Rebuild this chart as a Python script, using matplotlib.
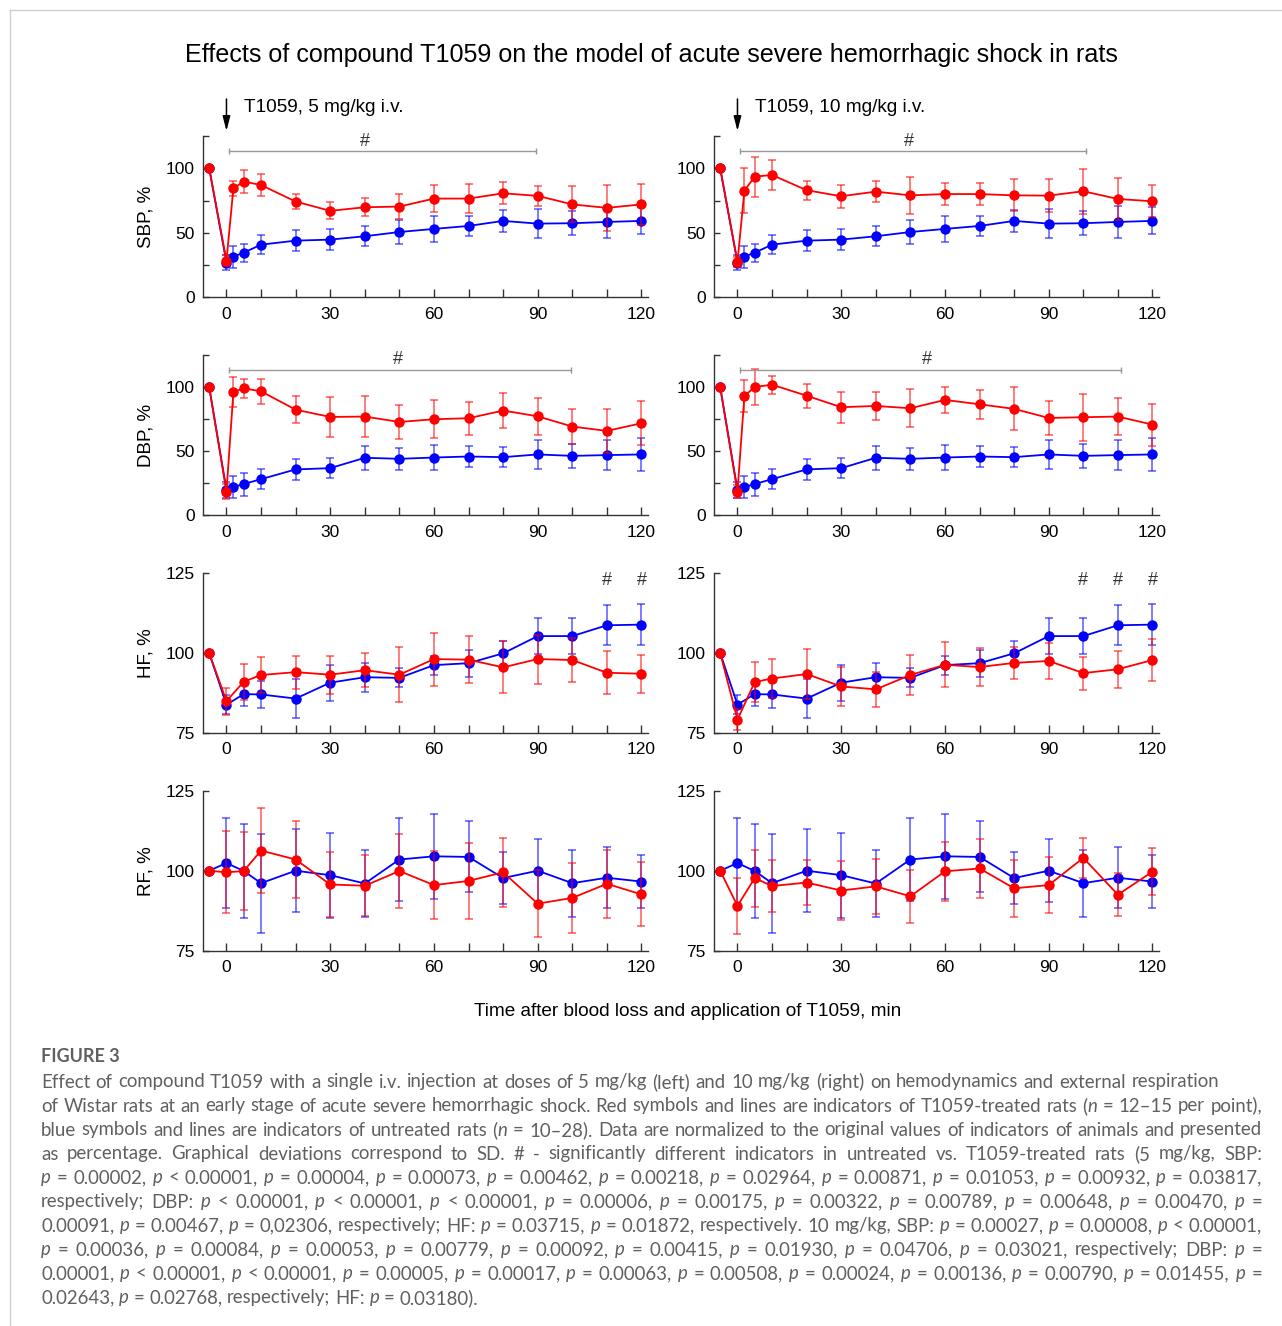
import re
import matplotlib
matplotlib.use('Agg')
import matplotlib.pyplot as plt
from matplotlib.lines import Line2D

plt.rcParams['font.family'] = ['Liberation Sans', 'DejaVu Sans']
plt.rcParams['font.size'] = 12.5

W, H = 1282, 1326

# sampling times, min (-5 = baseline before blood loss)
t_bp = [-5, 0, 2, 5, 10, 20, 30, 40, 50, 60, 70, 80, 90, 100, 110, 120]
t_hf = [-5, 0, 5, 10, 20, 30, 40, 50, 60, 70, 80, 90, 100, 110, 120]

# untreated rats (blue), same control group in both columns
sbp_ctrl    = [100, 26.9, 31.5, 34.6, 40.8, 43.9, 44.7, 47.3, 50.6, 53.0, 55.3, 59.2, 57.1, 57.4, 58.4, 59.2]
sbp_ctrl_sd = [0, 6.0, 8.5, 7.0, 7.6, 8.0, 8.0, 7.8, 9.3, 10.0, 8.0, 8.5, 11.0, 9.2, 12.5, 10.5]
dbp_ctrl    = [100, 19.5, 21.8, 24.2, 28.0, 35.6, 36.6, 44.7, 43.9, 44.9, 45.7, 45.2, 47.3, 46.2, 46.8, 47.3]
dbp_ctrl_sd = [0, 6.5, 8.3, 9.0, 7.8, 8.3, 8.0, 9.3, 8.6, 10.1, 8.4, 7.9, 11.4, 9.3, 12.0, 12.9]
hf_ctrl     = [100, 83.8, 87.1, 87.0, 85.7, 90.7, 92.4, 92.2, 96.2, 96.8, 99.9, 105.3, 105.3, 108.7, 108.9]
hf_ctrl_sd  = [0, 3.0, 3.7, 4.2, 6.1, 5.6, 4.6, 3.0, 3.0, 4.2, 3.9, 5.7, 5.7, 6.3, 6.5]
rf_ctrl     = [100, 102.4, 99.9, 96.1, 100.0, 98.6, 96.0, 103.5, 104.5, 104.3, 97.7, 100.0, 96.1, 97.8, 96.6]
rf_ctrl_sd  = [0, 14.2, 14.7, 15.5, 12.9, 13.3, 10.5, 13.0, 13.2, 11.1, 8.2, 9.9, 10.5, 9.5, 8.2]

# T1059 5 mg/kg (red, left column)
sbp_5    = [100, 28.4, 84.5, 89.7, 87.0, 74.2, 67.0, 69.8, 70.3, 76.5, 76.5, 80.6, 78.6, 72.0, 69.3, 72.0]
sbp_5_sd = [0, 4.0, 6.0, 9.0, 8.5, 6.0, 6.5, 7.0, 9.5, 10.3, 11.0, 8.5, 8.0, 14.0, 18.0, 16.0]
dbp_5    = [100, 18.2, 96.1, 99.0, 96.6, 82.3, 76.6, 76.9, 72.7, 74.8, 75.6, 81.6, 77.1, 69.1, 65.7, 71.7]
dbp_5_sd = [0, 6.0, 11.7, 7.4, 9.8, 10.8, 15.6, 16.0, 13.6, 15.0, 13.0, 13.5, 14.4, 13.4, 17.0, 17.0]
hf_5     = [100, 84.9, 91.0, 93.1, 94.0, 93.2, 94.6, 93.2, 98.1, 97.9, 95.5, 98.1, 97.8, 93.8, 93.5]
hf_5_sd  = [0, 4.2, 5.6, 5.7, 5.2, 6.0, 5.3, 8.7, 8.3, 7.4, 8.2, 7.7, 7.0, 6.7, 6.0]
rf_5     = [100, 99.5, 99.9, 106.3, 103.5, 95.7, 95.3, 99.9, 95.5, 96.8, 99.5, 89.7, 91.5, 95.9, 92.6]
rf_5_sd  = [0, 12.8, 12.3, 13.4, 12.0, 10.3, 9.5, 11.5, 10.6, 12.0, 10.8, 10.4, 11.0, 10.6, 10.0]

# T1059 10 mg/kg (red, right column)
sbp_10    = [100, 27.4, 82.7, 93.5, 94.8, 83.0, 78.3, 81.9, 79.0, 80.0, 80.0, 79.0, 78.8, 82.2, 76.2, 74.4]
sbp_10_sd = [0, 4.0, 17.5, 15.5, 11.3, 7.5, 9.0, 8.0, 14.6, 8.6, 8.5, 12.5, 13.0, 17.5, 16.5, 12.5]
dbp_10    = [100, 18.2, 93.0, 100.0, 101.8, 93.2, 84.2, 85.2, 83.4, 89.9, 86.5, 82.9, 75.8, 76.4, 76.9, 70.6]
dbp_10_sd = [0, 5.0, 12.6, 14.0, 7.0, 9.5, 12.0, 10.8, 15.0, 9.9, 11.4, 16.8, 13.4, 18.2, 14.5, 16.4]
hf_10     = [100, 79.1, 90.9, 92.0, 93.4, 89.5, 88.6, 93.1, 96.3, 95.6, 96.9, 97.5, 93.7, 94.9, 97.8]
hf_10_sd  = [0, 3.3, 6.3, 6.0, 7.7, 6.2, 5.5, 6.3, 7.1, 6.1, 5.0, 5.6, 5.2, 5.8, 6.5]
rf_10     = [100, 89.0, 97.7, 95.2, 96.3, 93.8, 95.1, 92.0, 99.8, 100.7, 94.5, 95.5, 104.0, 92.5, 99.7]
rf_10_sd  = [0, 8.7, 8.9, 8.2, 7.0, 9.3, 8.5, 8.2, 9.3, 9.1, 9.0, 8.7, 6.3, 6.7, 7.4]

row_labels = ['SBP, %', 'DBP, %', 'HF, %', 'RF, %']
dose_labels = ['T1059, 5 mg/kg i.v.', 'T1059, 10 mg/kg i.v.']

# significance: (start, end, '#' position) for the ranges, single '#' times for HF
sig_sbp = [(0.7, 89.5, 40), (0.7, 100.8, 49.6)]
sig_dbp = [(0.7, 99.5, 49.5), (0.7, 110.9, 54.8)]
sig_hf = [[110, 120], [100, 110, 120]]

RED, BLUE = '#ff0000', '#0000ff'

def fx(px):
    return px / W

def fy(py):
    return 1 - py / H

fig = plt.figure(figsize=(W / 100, H / 100), dpi=100)

# page frame
fig.add_artist(Line2D([fx(10), 1], [fy(10), fy(10)], color='#d0d0d0', lw=1))
fig.add_artist(Line2D([fx(10), fx(10)], [fy(10), 0], color='#d0d0d0', lw=1))

rows = [(136, 297.3), (355, 515), (573.3, 732.7), (790.7, 950.7)]
cols = [203.3, 714.3]
ax_w = 444.4

data = [
    (t_bp, sbp_ctrl, sbp_ctrl_sd, [(sbp_5, sbp_5_sd), (sbp_10, sbp_10_sd)], (0, 125)),
    (t_bp, dbp_ctrl, dbp_ctrl_sd, [(dbp_5, dbp_5_sd), (dbp_10, dbp_10_sd)], (0, 125)),
    (t_hf, hf_ctrl, hf_ctrl_sd, [(hf_5, hf_5_sd), (hf_10, hf_10_sd)], (75, 125)),
    (t_hf, rf_ctrl, rf_ctrl_sd, [(rf_5, rf_5_sd), (rf_10, rf_10_sd)], (75, 125)),
]

axes = {}
for r, (top, bot) in enumerate(rows):
    t, ctrl, ctrl_sd, treated, ylim = data[r]
    for c, left in enumerate(cols):
        ax = fig.add_axes([fx(left), fy(bot), ax_w / W, (bot - top) / H])
        axes[(r, c)] = ax
        y, sd = treated[c]
        for yy, ss, col in [(ctrl, ctrl_sd, BLUE), (y, sd, RED)]:
            ax.errorbar(t, yy, yerr=ss, fmt='none', ecolor=col, alpha=0.6,
                        elinewidth=1.2, capsize=3.2, capthick=1.2)
            ax.plot(t, yy, '-o', color=col, lw=1.3, markersize=7.5, markeredgewidth=0)
        ax.set_xlim(-6.7, 121.8)
        ax.set_ylim(*ylim)
        ax.set_xticks(range(0, 121, 10))
        ax.set_xticklabels([str(v) if v % 30 == 0 else '' for v in range(0, 121, 10)])
        if ylim[0] == 0:
            ax.set_yticks([0, 25, 50, 75, 100, 125])
            ax.set_yticklabels(['0', '', '50', '', '100', ''])
        else:
            ax.set_yticks([75, 100, 125])
        for s in ['top', 'right']:
            ax.spines[s].set_visible(False)
        for s in ['left', 'bottom']:
            ax.spines[s].set_color('#333333')
            ax.spines[s].set_linewidth(1)
        ax.tick_params(axis='x', direction='in', length=6, width=1, color='#333333', pad=7, labelsize=12.5)
        ax.tick_params(axis='y', direction='in', length=4, width=1, color='#333333', pad=6, labelsize=12.5)
        ax.patch.set_visible(False)
        if c == 0:
            ax.set_ylabel(row_labels[r], fontsize=13.5, labelpad=8)

# dose arrows and labels
for c in range(2):
    ax = axes[(0, c)]
    ax.annotate('', xy=(0, fy(131)), xytext=(0, fy(99)),
                xycoords=('data', 'figure fraction'), textcoords=('data', 'figure fraction'),
                arrowprops=dict(arrowstyle='-|>,head_length=0.7,head_width=0.18', color='k', lw=1.1,
                                shrinkA=0, shrinkB=0))
    ax.annotate(dose_labels[c], xy=(5.1, fy(107)), xycoords=('data', 'figure fraction'),
                va='center', ha='left', fontsize=13.7)

# significance brackets
for r, sig in [(0, sig_sbp), (1, sig_dbp)]:
    for c in range(2):
        ax = axes[(r, c)]
        x0, x1, xh = sig[c]
        ax.plot([x0, x1], [113.5, 113.5], color='#999999', lw=1, marker='|', markersize=5,
                markeredgewidth=1, clip_on=False)
        ax.text(xh, 114.5, '#', ha='center', va='bottom', fontsize=13, color='#333333')
for c in range(2):
    for xh in sig_hf[c]:
        axes[(2, c)].text(xh, 122.6, '#', ha='center', va='center', fontsize=13, color='#333333')

fig.text(fx(651), fy(55), 'Effects of compound T1059 on the model of acute severe hemorrhagic shock in rats',
         ha='center', va='center', fontsize=18.1)
fig.text(fx(688), fy(1011), 'Time after blood loss and application of T1059, min',
         ha='center', va='center', fontsize=13.7)

# caption
cap_font = ['Lato', 'DejaVu Sans']
cap_color = '#5f6062'
fig.text(fx(41), fy(1057), 'FIGURE 3', family=cap_font, fontsize=13, weight='bold',
         color=cap_color, va='center', ha='left')

caption = [
    "Effect of compound T1059 with a single i.v. injection at doses of 5 mg/kg (left) and 10 mg/kg (right) on hemodynamics and external respiration",
    "of Wistar rats at an early stage of acute severe hemorrhagic shock. Red symbols and lines are indicators of T1059-treated rats (*n* = 12–15 per point),",
    "blue symbols and lines are indicators of untreated rats (*n* = 10–28). Data are normalized to the original values of indicators of animals and presented",
    "as percentage. Graphical deviations correspond to SD. # - significantly different indicators in untreated vs. T1059-treated rats (5 mg/kg, SBP:",
    "*p* = 0.00002, *p* < 0.00001, *p* = 0.00004, *p* = 0.00073, *p* = 0.00462, *p* = 0.00218, *p* = 0.02964, *p* = 0.00871, *p* = 0.01053, *p* = 0.00932, *p* = 0.03817,",
    "respectively; DBP: *p* < 0.00001, *p* < 0.00001, *p* < 0.00001, *p* = 0.00006, *p* = 0.00175, *p* = 0.00322, *p* = 0.00789, *p* = 0.00648, *p* = 0.00470, *p* =",
    "0.00091, *p* = 0.00467, *p* = 0,02306, respectively; HF: *p* = 0.03715, *p* = 0.01872, respectively. 10 mg/kg, SBP: *p* = 0.00027, *p* = 0.00008, *p* < 0.00001,",
    "*p* = 0.00036, *p* = 0.00084, *p* = 0.00053, *p* = 0.00779, *p* = 0.00092, *p* = 0.00415, *p* = 0.01930, *p* = 0.04706, *p* = 0.03021, respectively; DBP: *p* =",
    "0.00001, *p* < 0.00001, *p* < 0.00001, *p* = 0.00005, *p* = 0.00017, *p* = 0.00063, *p* = 0.00508, *p* = 0.00024, *p* = 0.00136, *p* = 0.00790, *p* = 0.01455, *p* =",
    "0.02643, *p* = 0.02768, respectively; HF: *p* = 0.03180).",
]
# right edge of each caption line in the reference (None = natural width)
line_ends = [1219, 1262, 1262, 1262, 1262, 1262, 1262, 1262, 1262, None]

renderer = fig.canvas.get_renderer()

def text_width(s, size, italic=False):
    t = fig.text(0, 0, s, family=cap_font, fontsize=size, style='italic' if italic else 'normal')
    w = t.get_window_extent(renderer).width
    t.remove()
    return w

def split_word(word):
    parts = re.split(r'\*([^*]+)\*', word)
    return [(p, i % 2 == 1) for i, p in enumerate(parts) if p]

def line_words(line, size):
    words = []
    for w in line.split(' '):
        segs = split_word(w)
        words.append([(s, it, text_width(s, size, it)) for s, it in segs])
    return words

# pick a size so the first line is close to the reference width and no line overflows
x_left, x_right = 41, 1262
size = 12.0
w0 = sum(sum(s[2] for s in w) for w in line_words(caption[0], size)) + \
     (text_width('a a', size) - text_width('aa', size)) * (len(caption[0].split(' ')) - 1)
size = size * 1190 / w0
for _ in range(3):
    sp = text_width('a a', size) - text_width('aa', size)
    widest = max(sum(sum(s[2] for s in w) for w in line_words(l, size)) + sp * (len(l.split(' ')) - 1)
                 for l in caption)
    if widest <= (x_right - x_left):
        break
    size *= (x_right - x_left) / widest * 0.995

space = text_width('a a', size) - text_width('aa', size)
for i, line in enumerate(caption):
    words = line_words(line, size)
    total = sum(sum(s[2] for s in w) for w in words)
    if line_ends[i] is not None:
        gap = max(space, (line_ends[i] - x_left - total) / (len(words) - 1))
    else:
        gap = space
    x = x_left
    ypx = 1082 + 24 * i
    for w in words:
        for s, it, sw in w:
            fig.text(fx(x), fy(ypx), s, family=cap_font, fontsize=size, color=cap_color,
                     style='italic' if it else 'normal', va='center', ha='left')
            x += sw
        x += gap

fig.savefig('out.png', dpi=100)
